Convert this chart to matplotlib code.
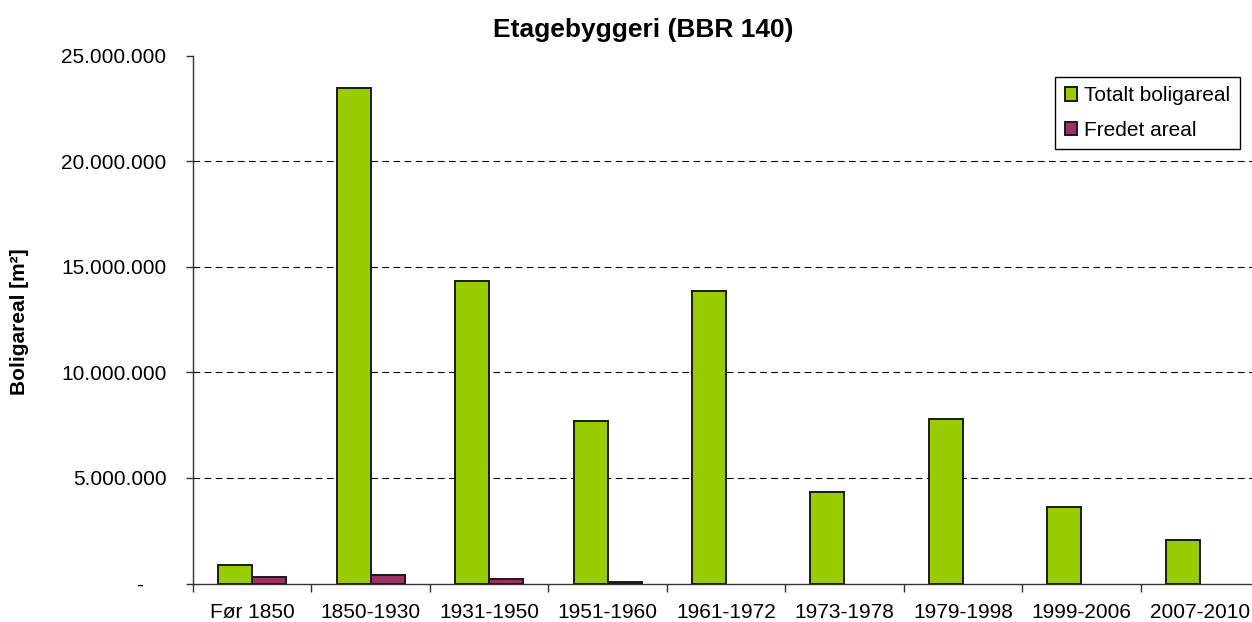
import numpy as np
import matplotlib.pyplot as plt
from matplotlib.ticker import FuncFormatter, FixedLocator

# Data
periods = ['Før 1850', '1850-1930', '1931-1950', '1951-1960', '1961-1972',
           '1973-1978', '1979-1998', '1999-2006', '2007-2010']
totalt = [880000, 23470000, 14320000, 7690000, 13840000,
          4310000, 7800000, 3600000, 2080000]
fredet = [310000, 410000, 230000, 80000, 0, 0, 0, 0, 0]

plt.rcParams['font.family'] = ['Liberation Sans', 'DejaVu Sans']

fig = plt.figure(figsize=(12.52, 6.22), dpi=100)
ax = fig.add_axes([193 / 1252, 1 - 583.5 / 622, 1066 / 1252, 528 / 622])

x = np.arange(len(periods))
w = 0.287
lw_tot = [1.4 if v > 0 else 0 for v in totalt]
lw_fre = [1.4 if v > 0 else 0 for v in fredet]
ax.bar(x - w / 2, totalt, w, color='#99CC00', edgecolor='#1a1a1a', linewidth=lw_tot,
       label='Totalt boligareal', zorder=3)
ax.bar(x + w / 2, fredet, w, color='#993366', edgecolor='#1a1a1a', linewidth=lw_fre,
       label='Fredet areal', zorder=3)

ax.set_xlim(-0.5, len(periods) - 0.5)
ax.set_ylim(0, 25000000)
ax.set_yticks(np.arange(0, 25000001, 5000000))
ax.yaxis.set_major_formatter(FuncFormatter(
    lambda v, p: '-    ' if v == 0 else f'{int(v):,}'.replace(',', '.')))
for yv in range(5000000, 25000000, 5000000):
    ax.axhline(yv, color='black', linestyle=(0, (6, 4)), linewidth=0.8, zorder=1)

ax.set_xticks(x)
ax.set_xticklabels(periods)
ax.xaxis.set_minor_locator(FixedLocator(np.arange(-0.5, len(periods), 1.0)))
ax.tick_params(axis='x', which='major', length=0, pad=14, labelsize=15)
ax.tick_params(axis='x', which='minor', length=6, width=1, color='#333333')
ax.tick_params(axis='y', length=5, width=1, color='#333333', pad=14, labelsize=15)

ax.spines['top'].set_visible(False)
ax.spines['right'].set_visible(False)
ax.spines['left'].set_color('#333333')
ax.spines['bottom'].set_color('#333333')
ax.spines['left'].set_linewidth(1)
ax.spines['bottom'].set_linewidth(1)

fig.text(643 / 1252, 1 - 30 / 622, 'Etagebyggeri (BBR 140)', ha='center', va='center',
         fontsize=19, fontweight='bold')
fig.text(20 / 1252, 1 - 322 / 622, 'Boligareal [m²]', ha='center', va='center',
         rotation=90, fontsize=15, fontweight='bold')

leg = ax.legend(loc='upper right', bbox_to_anchor=(1240 / 1252, 1 - 77 / 622),
                bbox_transform=fig.transFigure, fontsize=15, frameon=True,
                fancybox=False, shadow=False, borderpad=0.45, labelspacing=0.75,
                handlelength=0.6, handleheight=0.6, handletextpad=0.35,
                borderaxespad=0)
leg.get_frame().set_edgecolor('black')
leg.get_frame().set_linewidth(1)
leg.get_frame().set_alpha(1)

fig.savefig('out.png', dpi=100)
